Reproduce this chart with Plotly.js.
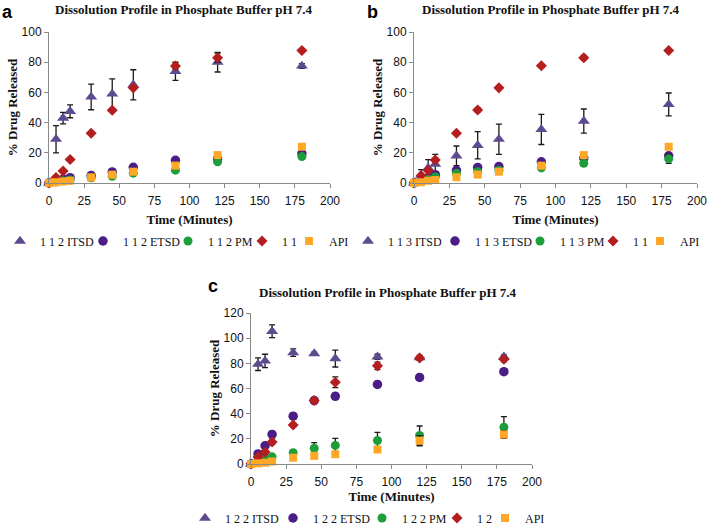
<!DOCTYPE html>
<html>
<head>
<meta charset="utf-8">
<script src="https://cdn.plot.ly/plotly-3.0.1.min.js"></script>
<style>html,body{margin:0;padding:0;background:#fff;}#chart{width:709px;height:527px;}</style>
</head>
<body>
<div id="chart"></div>
<script>
// Time points (minutes)
const timeMin = [0, 5, 10, 15, 30, 45, 60, 90, 120, 180];

// Panel a (1:1:2)
const aNames = ["1 1 2 ITSD", "1 1 2 ETSD", "1 1 2 PM", "1 1", "API"];
const aITSD = [0, 29, 43, 47.5, 57, 59, 65, 74, 80, 77.5];
const aITSDerr = [0, 9, 3.8, 4.3, 8.5, 10, 10, 6, 6.5, 1.5];
const aETSD = [0, 1, 2.5, 3.5, 5, 7.3, 10.4, 15, 16, 19.5];
const aPM = [0, 0.8, 1.5, 2, 3.5, 4.5, 6.5, 8.5, 14, 17.5];
const aDrug = [0, 3.6, 8, 15.6, 33, 48.2, 63, 77.5, 83, 87.8];
const aDrugErr = [0, 0, 0, 0, 0, 0, 0, 2, 3, 0];
const aAPI = [0, 0.5, 1, 1.5, 3.7, 5.5, 7.5, 11.5, 18.5, 24];

// Panel b (1:1:3)
const bNames = ["1 1 3 ITSD", "1 1 3 ETSD", "1 1 3 PM", "1 1", "API"];
const bITSD = [0, 5.4, 10, 12.5, 18, 25, 29, 35.5, 41, 52];
const bITSDerr = [0, 3.5, 5.5, 6.5, 6.5, 9, 10, 10, 8, 7.6];
const bETSD = [0, 2, 3.5, 5.5, 8.3, 10.3, 10.9, 14, 16.5, 18];
const bPM = [0, 1, 2.5, 4, 6.5, 7.5, 8.5, 10, 13, 16];
const bPMerr = [0, 0, 0, 0, 0, 0, 0, 1.5, 2, 3];
const bDrug = [0, 4.8, 8.3, 15.2, 33, 48.4, 63, 77.6, 83, 87.8];
const bDrugErr = [0, 0, 0, 0, 0, 1.5, 0, 0, 1.5, 0];
const bAPI = [0, 0.5, 1.5, 2, 3.8, 5.6, 7.5, 11.5, 18.5, 24];

// Panel c (1:2:2)
const cNames = ["1 2 2 ITSD", "1 2 2 ETSD", "1 2 2 PM", "1 2", "API"];
const cITSD = [0, 79.3, 81.9, 105.5, 88.5, 87.8, 83.8, 85.2, 84.5, 85.2];
const cITSDerr = [0, 5, 5.3, 5, 3, 1, 6.7, 2, 0, 1.5];
const cETSD = [0, 8, 14.5, 23.5, 38, 50.4, 53.8, 63.2, 68.8, 73.4];
const cETSDerr = [0, 2.5, 2.5, 2.5, 2.5, 0, 2.5, 0, 0, 0];
const cPM = [0, 3, 4.5, 5.7, 9, 12.5, 14.8, 18.7, 22.7, 29.2];
const cPMerr = [0, 1, 1, 1.5, 2, 4.5, 5.5, 6.5, 7.5, 8.5];
const cDrug = [0, 5.5, 9.5, 17.5, 31, 50.4, 65, 78, 84.3, 83.3];
const cDrugErr = [0, 1, 1.5, 2, 1.5, 1.5, 4.3, 3, 2, 2];
const cAPI = [0, 0.5, 1, 2, 5, 6.5, 7.8, 11.5, 18.5, 23.5];
const cAPIerr = [0, 0, 0, 0, 0, 0, 0, 0, 4, 3];

const zeros = timeMin.map(() => 0);
const seriesStyle = [
  {symbol: "triangle-up", size: 10.5, color: "#5E4B8F"},
  {symbol: "circle", size: 9.5, color: "#4A1D87"},
  {symbol: "circle", size: 9, color: "#1E9E3A"},
  {symbol: "diamond", size: 8.5, color: "#B41E1E"},
  {symbol: "square", size: 8, color: "#FFA726"}
];

function mk(name, y, err, idx, ax, legendId, lw) {
  const st = seriesStyle[idx];
  return {
    type: "scatter", mode: "markers", name: name,
    x: timeMin, y: y,
    xaxis: "x" + ax, yaxis: "y" + ax, legend: legendId,
    legendwidth: lw,
    cliponaxis: false,
    marker: {symbol: st.symbol, size: st.size, color: st.color, line: {width: 0}},
    error_y: {type: "data", array: err || zeros, visible: true, color: "#1a1a1a", thickness: 1.3, width: 3}
  };
}

const lwA = [38, 40, 29, 2, 25];
const lwB = [42, 40, 28, 2, 20];
const lwC = [43, 44, 30, 3, 25];

const traces = [
  mk(aNames[0], aITSD, aITSDerr, 0, "", "legend", lwA[0]),
  mk(aNames[1], aETSD, null, 1, "", "legend", lwA[1]),
  mk(aNames[2], aPM, null, 2, "", "legend", lwA[2]),
  mk(aNames[3], aDrug, aDrugErr, 3, "", "legend", lwA[3]),
  mk(aNames[4], aAPI, null, 4, "", "legend", lwA[4]),
  mk(bNames[0], bITSD, bITSDerr, 0, "2", "legend2", lwB[0]),
  mk(bNames[1], bETSD, null, 1, "2", "legend2", lwB[1]),
  mk(bNames[2], bPM, bPMerr, 2, "2", "legend2", lwB[2]),
  mk(bNames[3], bDrug, bDrugErr, 3, "2", "legend2", lwB[3]),
  mk(bNames[4], bAPI, null, 4, "2", "legend2", lwB[4]),
  mk(cNames[0], cITSD, cITSDerr, 0, "3", "legend3", lwC[0]),
  mk(cNames[1], cETSD, cETSDerr, 1, "3", "legend3", lwC[1]),
  mk(cNames[2], cPM, cPMerr, 2, "3", "legend3", lwC[2]),
  mk(cNames[3], cDrug, cDrugErr, 3, "3", "legend3", lwC[3]),
  mk(cNames[4], cAPI, cAPIerr, 4, "3", "legend3", lwC[4])
];

const W = 709, H = 527;
const tickFont = {family: "Liberation Sans, Arial, sans-serif", size: 12, color: "#111"};
const titleFont = {family: "Liberation Serif, Times New Roman, serif", size: 13, color: "#111", weight: "bold"};
const legendFont = {family: "Liberation Serif, Times New Roman, serif", size: 12, color: "#111"};
const letterFont = {family: "Liberation Sans, Arial, sans-serif", size: 18, color: "#000", weight: "bold"};

function xax(domain, anchor, standoff) {
  return {
    domain: domain, anchor: anchor, range: [0, 200], dtick: 25, tick0: 0,
    showgrid: false, zeroline: false, showline: true, linecolor: "#8a8a8a", linewidth: 1,
    ticks: "outside", ticklen: 4, tickcolor: "#8a8a8a", tickfont: tickFont, ticklabelstandoff: 3,
    automargin: false,
    title: {text: "Time (Minutes)", font: titleFont, standoff: standoff}
  };
}
function yax(domain, anchor, maxV) {
  return {
    domain: domain, anchor: anchor, range: [0, maxV], dtick: 20, tick0: 0,
    showgrid: false, zeroline: false, showline: true, linecolor: "#8a8a8a", linewidth: 1,
    ticks: "outside", ticklen: 4, tickcolor: "#8a8a8a", tickfont: tickFont,
    automargin: false,
    title: {text: "% Drug Released", font: titleFont, standoff: 1}
  };
}

const domAx = [49 / W, 330 / W], domAy = [1 - 183 / H, 1 - 32 / H];
const domBx = [414 / W, 697 / W], domBy = domAy;
const domCx = [251 / W, 532 / W], domCy = [1 - 464 / H, 1 - 313 / H];

const legendBase = {orientation: "h", xanchor: "left", yanchor: "middle", font: legendFont,
  bgcolor: "rgba(0,0,0,0)", borderwidth: 0, itemwidth: 30, traceorder: "normal"};

const mainTitle = "Dissolution Profile in Phosphate Buffer pH 7.4";
const layout = {
  width: W, height: H,
  margin: {l: 0, r: 0, t: 0, b: 0, autoexpand: false},
  paper_bgcolor: "#fff", plot_bgcolor: "#fff",
  showlegend: true,
  xaxis: xax(domAx, "y", 7), yaxis: yax(domAy, "x", 100),
  xaxis2: xax(domBx, "y2", 7), yaxis2: yax(domBy, "x2", 100),
  xaxis3: xax(domCx, "y3", 2), yaxis3: yax(domCy, "x3", 120),
  legend: Object.assign({}, legendBase, {x: 0, y: 1 - 241 / H}),
  legend2: Object.assign({}, legendBase, {x: 348 / W, y: 1 - 241 / H}),
  legend3: Object.assign({}, legendBase, {x: 185 / W, y: 1 - 518 / H}),
  annotations: [
    {text: mainTitle, x: 184 / W, y: 1 - 10 / H, xref: "paper", yref: "paper", showarrow: false, xanchor: "center", yanchor: "middle", font: titleFont},
    {text: mainTitle, x: 551 / W, y: 1 - 10 / H, xref: "paper", yref: "paper", showarrow: false, xanchor: "center", yanchor: "middle", font: titleFont},
    {text: mainTitle, x: 388 / W, y: 1 - 292 / H, xref: "paper", yref: "paper", showarrow: false, xanchor: "center", yanchor: "middle", font: titleFont},
    {text: "a", x: 7 / W, y: 1, xref: "paper", yref: "paper", showarrow: false, xanchor: "center", yanchor: "top", font: letterFont},
    {text: "b", x: 372 / W, y: 1, xref: "paper", yref: "paper", showarrow: false, xanchor: "center", yanchor: "top", font: letterFont},
    {text: "c", x: 213 / W, y: 1 - 274 / H, xref: "paper", yref: "paper", showarrow: false, xanchor: "center", yanchor: "top", font: letterFont}
  ]
};

Plotly.newPlot("chart", traces, layout, {displayModeBar: false, staticPlot: true});
</script>
</body>
</html>
